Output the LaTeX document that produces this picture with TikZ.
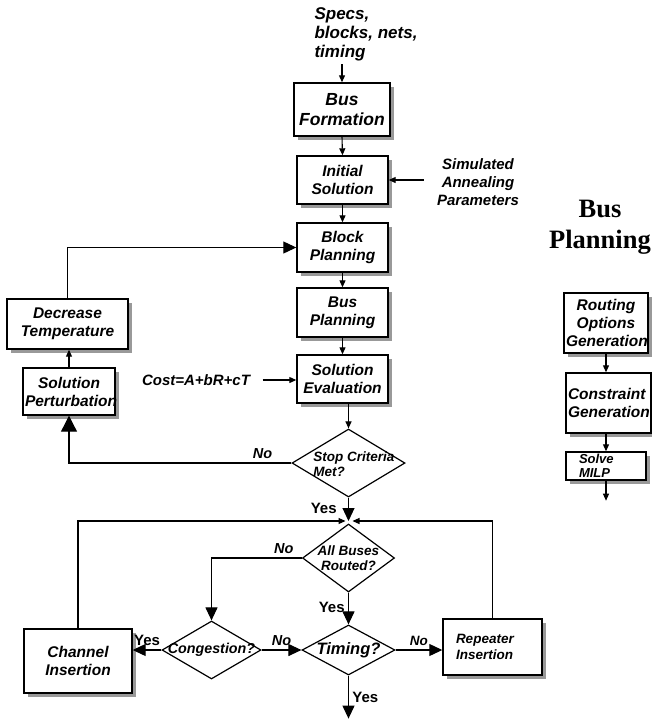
\documentclass[tikz,border=0pt]{standalone}
\usepackage{fontspec}
\setsansfont{Liberation Sans}
\newfontfamily\headfont{Liberation Serif}
\usepackage{tikz}
\usetikzlibrary{arrows.meta,calc,positioning,shapes.geometric,shadows}

\begin{document}
\begin{tikzpicture}[x=1pt, y=-1pt,
  blk/.style={draw, line width=1.4pt, fill=white, inner xsep=2pt, inner ysep=0pt, align=center,
    font=\sffamily\bfseries\itshape\fontsize{15.5}{18}\selectfont,
    drop shadow={shadow xshift=4pt, shadow yshift=-4pt, opacity=1, fill=gray!80}},
  dec/.style={draw, diamond, line width=1.2pt, inner sep=0pt, fill=white},
  dtxt/.style={inner sep=0pt, align=center, font=\sffamily\bfseries\itshape\fontsize{13.5}{15}\selectfont},
  lbl/.style={align=center, font=\sffamily\bfseries\itshape\fontsize{15}{18}\selectfont},
  arr/.style={-{Triangle[length=7pt,width=6pt]}, line width=1.1pt},
  bigarr/.style={-{Triangle[length=13pt,width=12pt]}, line width=1.1pt},
  yes/.style={font=\sffamily\bfseries\fontsize{15}{17}\selectfont},
  no/.style={font=\sffamily\bfseries\itshape\fontsize{14.5}{17}\selectfont}]
\useasboundingbox (0,0) rectangle (652,724);

% main annealing loop
\node[lbl, anchor=west, align=left, font=\sffamily\bfseries\itshape\fontsize{17}{19}\selectfont] (specs) at (311,34) {Specs,\\blocks, nets,\\timing};
\node[blk, text width=92pt, minimum height=53pt, font=\sffamily\bfseries\itshape\fontsize{17.5}{20}\selectfont] (busform) at (342,109.5) {Bus\\Formation};
\node[blk, text width=87pt, minimum height=48pt] (init) at (342.5,180) {Initial\\Solution};
\node[blk, text width=87pt, minimum height=49pt] (blockp) at (342.5,247.5) {Block\\Planning};
\node[blk, text width=87pt, minimum height=49pt] (busp) at (342.5,312.5) {Bus\\Planning};
\node[blk, text width=87pt, minimum height=48pt] (eval) at (342.5,379) {Solution\\Evaluation};
\node[blk, text width=117pt, minimum height=50pt] (decr) at (67.5,324) {Decrease\\Temperature};
\node[blk, text width=88pt, minimum height=47pt] (pert) at (69,391.5) {Solution\\Perturbation};
\node[lbl] (anneal) at (478,182) {Simulated\\Annealing\\Parameters};
\node[lbl] (cost) at (196,380) {Cost=A+bR+cT};

% decisions
\node[dec, minimum width=113pt, minimum height=68pt] (stop) at (348.5,463) {};
\node[dtxt, align=left] (stoptxt) at (354,464) {Stop Criteria\\Met?};
\node[dec, minimum width=92pt, minimum height=68pt] (allbus) at (348.5,558) {};
\node[dtxt] (allbustxt) at (allbus) {All Buses\\Routed?};
\node[dec, minimum width=99pt, minimum height=58pt] (cong) at (211.5,650) {};
\node[dtxt, font=\sffamily\bfseries\itshape\fontsize{14.3}{16}\selectfont] (congtxt) at (cong) {Congestion?};
\node[dec, minimum width=93pt, minimum height=50pt] (timing) at (348.5,650) {};
\node[dtxt, font=\sffamily\bfseries\itshape\fontsize{16.5}{18}\selectfont] (timingtxt) at (timing) {Timing?};
\node[blk, text width=104pt, minimum height=64pt] (chan) at (78,661) {Channel\\Insertion};
\node[blk, text width=73pt, inner xsep=13pt, align=left, minimum height=56pt, font=\sffamily\bfseries\itshape\fontsize{13.5}{16}\selectfont] (rep) at (492.5,647) {Repeater\\Insertion};
\coordinate (jn) at (348.5,521);
\coordinate[below=43pt of timing.south] (tout);

% bus planning detail
\node[font=\headfont\bfseries\fontsize{26.5}{31}\selectfont, align=center] (head) at (600,227) {Bus\\Planning};
\node[blk, text width=80pt, minimum height=60pt] (route) at (606,323) {Routing\\Options\\Generation};
\node[blk, text width=81pt, align=left, minimum height=60pt] (constr) at (608.5,403) {Constraint\\Generation};
\node[blk, text width=54pt, inner xsep=13pt, align=left, minimum height=28pt, font=\sffamily\bfseries\itshape\fontsize{13}{14.5}\selectfont] (milp) at (606,466) {Solve\\MILP};
\coordinate[below=20pt of milp.south] (mout);

% connectors
\draw[arr] (busform |- specs.south) -- (busform.north);
\draw[arr] (busform.south) -- (init.north);
\draw[arr] ($(anneal.west |- init.east)+(-10pt,0)$) -- (init.east);
\draw[arr] (init.south) -- (blockp.north);
\draw[arr] (blockp.south) -- (busp.north);
\draw[arr] (busp.south) -- (eval.north);
\draw[arr] ($(cost.east)+(9pt,0)$) -- (eval.west |- cost.east);
\draw[arr] (eval.south -| stop.north) -- (stop.north);
\draw[-{Triangle[length=16pt,width=16pt]}, line width=1.1pt] (stop.west) -- node[no, above, pos=0.13] {No} (pert.south |- stop.west) -- (pert.south);
\draw[arr] (pert.north) -- (pert.north |- decr.south);
\draw[bigarr] (decr.north) |- (blockp.west);
\draw[bigarr] (stop.south) -- node[yes, left=8pt, pos=0.45] {Yes} (jn);
\draw[arr] (chan.north) |- ($(jn)+(-3pt,0)$);
\draw[arr] (rep.north) |- ($(jn)+(4pt,0)$);
\draw[bigarr] (allbus.west) -- node[no, above, pos=0.2] {No} (cong.north |- allbus.west) -- (cong.north);
\draw[bigarr] (allbus.south) -- node[yes, left, pos=0.45] {Yes} (timing.north);
\draw[bigarr] (cong.west) -- node[yes, above] {Yes} (chan.east |- cong.west);
\draw[bigarr] (cong.east) -- node[no, above] {No} (timing.west);
\draw[bigarr] (timing.east) -- node[no, above, font=\sffamily\bfseries\itshape\fontsize{13.5}{16}\selectfont] {No} (rep.west |- timing.east);
\draw[bigarr] (timing.south) -- node[yes, right] {Yes} (tout);
\draw[arr] (route.south) -- (route.south |- constr.north);
\draw[arr] (milp.north |- constr.south) -- (milp.north);
\draw[arr] (milp.south) -- (mout);
\end{tikzpicture}
\end{document}
